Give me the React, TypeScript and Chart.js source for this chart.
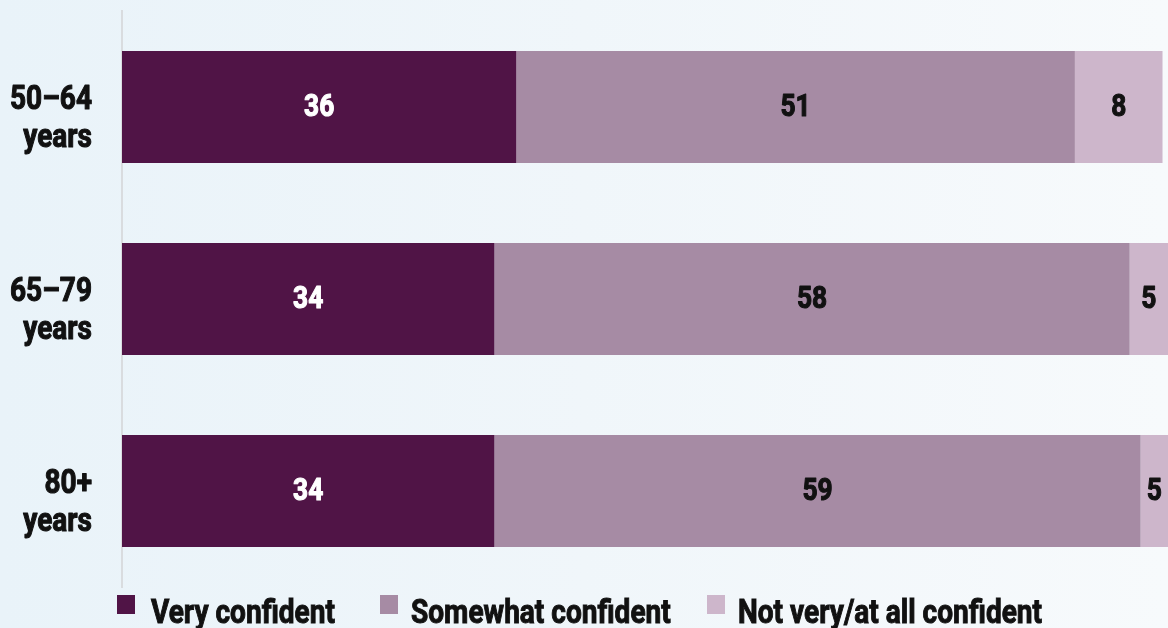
import React, { useEffect, useRef } from "react";
import { Chart, registerables } from "chart.js";

Chart.register(...registerables);

const categories = [["50–64", "years"], ["65–79", "years"], ["80+", "years"]];
const veryConfident = [36, 34, 34];
const somewhatConfident = [51, 58, 59];
const notConfident = [8, 5, 5];
const seriesNames = ["Very confident", "Somewhat confident", "Not very/at all confident"];
const seriesColors = ["#501446", "#a68ba4", "#cdb6cb"];
const labelColors = ["#ffffff", "#111111", "#111111"];
const AXIS_MAX = 95.5;

const FONT = "Roboto, 'Noto Sans', sans-serif";
const SQUEEZE = 0.85;

const legendLefts = [117, 380, 707];
const legendTextLefts = [151, 411, 738];

function squeezedText(ctx: any, text: string, x: number, y: number) {
  ctx.save();
  ctx.translate(x, y);
  ctx.scale(SQUEEZE, 1);
  ctx.strokeStyle = ctx.fillStyle;
  ctx.lineWidth = 1.1;
  ctx.lineJoin = "round";
  ctx.strokeText(text, 0, 0);
  ctx.fillText(text, 0, 0);
  ctx.restore();
}

const textPlugin = {
  id: "squeezedText",
  afterDatasetsDraw(chart: any) {
    const { ctx, chartArea } = chart;
    ctx.save();
    // segment value labels
    ctx.font = `bold 31px ${FONT}`;
    ctx.textAlign = "center";
    ctx.textBaseline = "middle";
    chart.data.datasets.forEach((ds: any, i: number) => {
      const meta = chart.getDatasetMeta(i);
      meta.data.forEach((el: any, j: number) => {
        const { x, base, y } = el.getProps(["x", "base", "y"], true);
        const left = Math.max(Math.min(x, base), chartArea.left);
        const right = Math.min(Math.max(x, base), chartArea.right);
        if (right <= left) return;
        ctx.fillStyle = labelColors[i];
        squeezedText(ctx, String(ds.data[j]), (left + right) / 2, y + 1);
      });
    });
    // category labels on the y axis
    const yScale = chart.scales.y;
    ctx.font = `bold 33px ${FONT}`;
    ctx.textAlign = "right";
    ctx.textBaseline = "alphabetic";
    ctx.fillStyle = "#111111";
    (chart.data.labels as any[]).forEach((lab: any, i: number) => {
      const cy = yScale.getPixelForValue(i);
      const lines = Array.isArray(lab) ? lab : [lab];
      lines.forEach((line: string, k: number) => {
        squeezedText(ctx, line, chartArea.left - 30, cy + 2 + k * 38);
      });
    });
    ctx.restore();
  },
};

export default function App() {
  const ref = useRef<HTMLCanvasElement | null>(null);

  useEffect(() => {
    if (!ref.current) return;
    const values = [veryConfident, somewhatConfident, notConfident];
    const chart = new Chart(ref.current, {
      type: "bar",
      data: {
        labels: categories as any,
        datasets: values.map((v, i) => ({
          label: seriesNames[i],
          data: v,
          backgroundColor: seriesColors[i],
          borderWidth: 0,
          barPercentage: 0.583,
          categoryPercentage: 1,
        })),
      },
      options: {
        indexAxis: "y",
        responsive: false,
        animation: false,
        layout: { padding: { top: 11, bottom: 41, left: 0, right: 0 } },
        plugins: {
          legend: { display: false },
          tooltip: { enabled: false },
        },
        scales: {
          x: {
            display: false,
            stacked: true,
            min: 0,
            max: AXIS_MAX,
          },
          y: {
            stacked: true,
            grid: { display: false, drawTicks: false },
            border: { display: true, color: "#d9dcdf", width: 2 },
            ticks: { display: false },
            afterFit(scale: any) {
              scale.width = 122;
              scale.paddingTop = 0;
              scale.paddingBottom = 0;
            },
          },
        },
      },
      plugins: [textPlugin],
    });
    return () => chart.destroy();
  }, []);

  return (
    <div
      style={{
        position: "absolute",
        left: 0,
        top: 0,
        width: 1168,
        height: 628,
        overflow: "hidden",
        background: "linear-gradient(to right, #e9f3f9 0%, #f0f6fa 50%, #f7fafc 100%)",
      }}
    >
      <canvas ref={ref} width={1168} height={628} style={{ position: "absolute", left: 0, top: 0 }} />
      {seriesNames.map((name, i) => (
        <React.Fragment key={name}>
          <div
            style={{
              position: "absolute",
              left: legendLefts[i],
              top: 595,
              width: 18,
              height: 19,
              background: seriesColors[i],
            }}
          />
          <div
            style={{
              position: "absolute",
              left: legendTextLefts[i],
              top: 595,
              fontFamily: FONT,
              fontWeight: "bold",
              fontSize: 33,
              lineHeight: "33px",
              color: "#111111",
              whiteSpace: "nowrap",
              WebkitTextStroke: "1px #111111",
              transform: `scaleX(${SQUEEZE})`,
              transformOrigin: "left top",
            }}
          >
            {name}
          </div>
        </React.Fragment>
      ))}
    </div>
  );
}
